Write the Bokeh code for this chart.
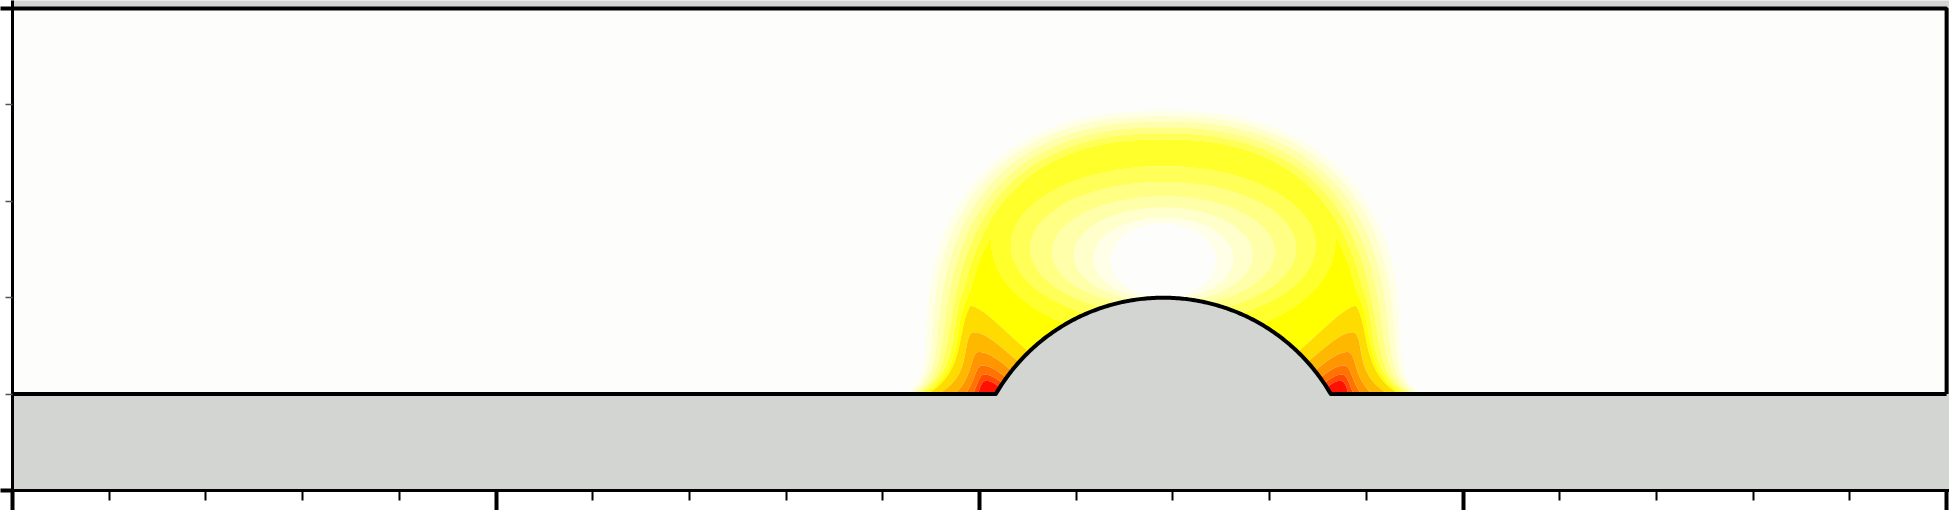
import numpy as np
from bokeh.plotting import figure
from bokeh.models import FixedTicker, Range1d, CustomJSTickFormatter
from bokeh.embed import file_html
from bokeh.resources import INLINE

# ---- geometry of the domain (data units) ----
DOMAIN_X = [0.0, 4.0]
DOMAIN_TOP = 1.0
FLOOR_Y = 0.2
BUMP_CX = 2.38
BUMP_CY = 0.0
BUMP_R = 0.4

# ---- axis ticks ----
X_MAJOR = [0, 1, 2, 3, 4]
X_MINOR = [0.2, 0.4, 0.6, 0.8, 1.2, 1.4, 1.6, 1.8, 2.2, 2.4, 2.6, 2.8, 3.2, 3.4, 3.6, 3.8]
Y_MAJOR = [0, 1]
Y_MINOR = [0.2, 0.4, 0.6, 0.8]

# ---- contour levels and fill colours (low -> high) ----
LEVELS = [1, 2, 3, 4, 5, 6, 7, 8, 9, 10, 11, 12, 13, 1e6]
COLORS = ["#ffffe8", "#ffffcc", "#ffffaa", "#ffff84", "#ffff58", "#ffff2c", "#ffff00",
          "#ffdc00", "#ffb800", "#ff9600", "#ff7400", "#ff4a00", "#ff1000"]

GRAY = "#d3d5d2"
FLUID = "#fdfdfb"

# ---- model field ----
# outer dome of the halo
HALO_A, HALO_B, HALO_YC, HALO_P = 0.49, 0.488, 0.30, 2.4
RIM_CAP, TOP_DROP = 6.6, 2.0
# nested bands round the calm zone above the bump: level -> top, half width, bottom
BAND_LEVEL = [0, 1, 2, 3, 4, 5, 6, 7, 8, 10, 14]
BAND_TOP = [0.53, 0.554, 0.566, 0.587, 0.61, 0.64, 0.672, 0.71, 0.75, 0.83, 1.0]
BAND_HALF = [0.07, 0.109, 0.145, 0.185, 0.23, 0.275, 0.315, 0.352, 0.40, 0.50, 0.70]
BAND_BOTTOM = [0.41, 0.40, 0.396, 0.39, 0.38, 0.365, 0.345, 0.31, 0.26, 0.15, 0.0]
# peaks at the two feet of the bump
FOOT_GAIN, FOOT_R0 = 2.6, 0.22

xs = np.linspace(1.70, 3.06, 681)
ys = np.linspace(FLOOR_Y, 0.86, 331)
X, Y = np.meshgrid(xs, ys)
q = np.abs(X - BUMP_CX)
dy = Y - FLOOR_Y

a_eff = HALO_A * (1 + 0.09 * np.exp(-dy / 0.03))
t = np.clip((Y - HALO_YC) / HALO_B, 0, None)
s_out = np.where(Y > HALO_YC, ((q / a_eff) ** HALO_P + t ** HALO_P) ** (1 / HALO_P), q / a_eff)
amp = RIM_CAP - TOP_DROP * np.clip(t, 0, 1) ** 2
slope = 30 + 40 * np.exp(-dy / 0.1) + 14 * np.clip(t, 0, 1) ** 2
A = np.minimum(1 + amp, 1 + slope * (1 - s_out))

lo = np.zeros_like(X)
hi = np.full_like(X, BAND_LEVEL[-1])
for _ in range(22):
    mid = 0.5 * (lo + hi)
    top = np.interp(mid, BAND_LEVEL, BAND_TOP)
    bot = np.interp(mid, BAND_LEVEL, BAND_BOTTOM)
    half = np.interp(mid, BAND_LEVEL, BAND_HALF)
    yc = 0.5 * (top + bot)
    ay = 0.5 * (top - bot)
    inside = (q / half) ** 2 + ((Y - yc) / ay) ** 2 <= 1
    hi = np.where(inside, mid, hi)
    lo = np.where(inside, lo, mid)
B = hi

k = 0.2
V0 = -k * np.logaddexp(-A / k, -B / k)

q_axis = 0.36 + 0.25 * dy
u = q - q_axis
sig = np.where(u > 0, 0.22 + 0.6 * np.exp(-dy / 0.04), 0.25 + 0.9 * np.exp(-dy / 0.1))
r = np.sqrt((u / sig) ** 2 + dy ** 2)
F = np.clip(FOOT_GAIN * np.log(FOOT_R0 / np.maximum(r, 1e-4)), 0, None)
Z = np.minimum(V0 + F, 50)

# ---- figure ----
p = figure(width=1949, height=510, x_range=Range1d(0, 4.006), y_range=Range1d(0, 1.0166),
           output_backend="svg", toolbar_location=None,
           min_border_left=0, min_border_right=0, min_border_top=0, min_border_bottom=0)
p.background_fill_color = GRAY
p.border_fill_color = "white"
p.outline_line_color = None
p.grid.visible = False

# fluid domain
theta = np.linspace(np.pi - np.arcsin((FLOOR_Y - BUMP_CY) / BUMP_R), np.arcsin((FLOOR_Y - BUMP_CY) / BUMP_R), 200)
arc_x = BUMP_CX + BUMP_R * np.cos(theta)
arc_y = BUMP_CY + BUMP_R * np.sin(theta)
p.patch([DOMAIN_X[0], DOMAIN_X[1], DOMAIN_X[1], DOMAIN_X[0]],
        [FLOOR_Y, FLOOR_Y, DOMAIN_TOP, DOMAIN_TOP], fill_color=FLUID, line_color=None)

p.contour(xs, ys, Z, LEVELS, fill_color=COLORS, line_color=None)

# bump (solid)
p.patch(list(arc_x), list(arc_y), fill_color=GRAY, line_color=None)

# outlines
p.line([DOMAIN_X[0], DOMAIN_X[1], DOMAIN_X[1]], [DOMAIN_TOP, DOMAIN_TOP, FLOOR_Y],
       line_color="black", line_width=4)
p.line([DOMAIN_X[0]] + list(arc_x) + [DOMAIN_X[1]], [FLOOR_Y] + list(arc_y) + [FLOOR_Y],
       line_color="black", line_width=4, line_join="round")

blank = CustomJSTickFormatter(code="return ''")
for axis, major, minor in ((p.xaxis[0], X_MAJOR, X_MINOR), (p.yaxis[0], Y_MAJOR, Y_MINOR)):
    axis.ticker = FixedTicker(ticks=major, minor_ticks=minor)
    axis.formatter = blank
    axis.major_label_text_font_size = "0px"
    axis.major_label_standoff = 0
    axis.axis_line_color = "black"
    axis.axis_line_width = 3
    axis.major_tick_in = 0
    axis.minor_tick_in = 0
    axis.major_tick_line_color = "black"

p.xaxis.major_tick_out = 20
p.xaxis.major_tick_line_width = 4
p.xaxis.minor_tick_out = 10
p.xaxis.minor_tick_line_width = 2
p.xaxis.minor_tick_line_color = "black"

p.yaxis.major_tick_out = 12
p.yaxis.major_tick_line_width = 4
p.yaxis.minor_tick_out = 7
p.yaxis.minor_tick_line_width = 1.5
p.yaxis.minor_tick_line_color = "#555555"

open("out.html", "w").write(file_html(p, INLINE))
